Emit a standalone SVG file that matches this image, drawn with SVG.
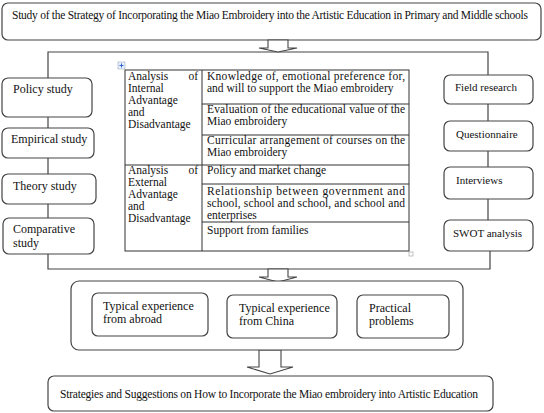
<svg xmlns="http://www.w3.org/2000/svg" width="544" height="413" viewBox="0 0 544 413" font-family="'Liberation Serif', 'DejaVu Serif', serif">
<style>
.box{fill:#fff;stroke:#444;stroke-width:1.2}
.ln{fill:none;stroke:#444;stroke-width:1.2}
.tb{fill:none;stroke:#333;stroke-width:1}
.arr{fill:#fff;stroke:#444;stroke-width:1.1}
text{font-family:'Liberation Serif','DejaVu Serif',serif;font-size:12px;fill:#111}
.s{font-size:11px}
.t{font-size:11.5px}
</style>
<rect width="544" height="413" fill="#fff"/>
<g id="title"><rect class="box" x="2" y="3" width="539" height="37" rx="6"/><text x="12" y="19" class="t" textLength="516" lengthAdjust="spacing">Study of the Strategy of Incorporating the Miao Embroidery into the Artistic Education in Primary and Middle schools</text></g>
<g id="connectors">
<path class="ln" d="M48,78V52H488V75"/>
<path class="ln" d="M48,117V128M48,158V174M48,204V218M48,254V269H490V251"/>
<path class="ln" d="M488,104V121M488,151V167M488,199V220"/>
<path class="arr" d="M268,40H288V48H297L278,52L259,48H268Z"/>
<path class="arr" d="M268,269H288V277H297L278,282L259,277H268Z"/>
<path class="arr" d="M259,350H281V367H293L270,374L247,367H259Z"/>
</g>
<g id="policy"><rect class="box" x="2" y="78" width="90" height="39" rx="6"/><text x="13" y="93">Policy study</text></g>
<g id="empirical"><rect class="box" x="2" y="128" width="92" height="30" rx="6"/><text x="11" y="143">Empirical study</text></g>
<g id="theory"><rect class="box" x="2" y="174" width="94" height="30" rx="6"/><text x="13" y="190">Theory study</text></g>
<g id="comparative"><rect class="box" x="3" y="218" width="91" height="36" rx="6"/><text x="13" y="233">Comparative</text><text x="13" y="247">study</text></g>
<g id="field"><rect class="box" x="444" y="75" width="89" height="29" rx="6"/><text x="455" y="91" class="s">Field research</text></g>
<g id="questionnaire"><rect class="box" x="444" y="121" width="89" height="30" rx="6"/><text x="456" y="138" class="s">Questionnaire</text></g>
<g id="interviews"><rect class="box" x="444" y="167" width="89" height="32" rx="6"/><text x="456" y="184" class="s">Interviews</text></g>
<g id="swot"><rect class="box" x="444" y="220" width="89" height="31" rx="6"/><text x="453" y="237" class="s">SWOT analysis</text></g>
<g id="table">
<rect x="118" y="62" width="7" height="7" fill="#e8f0ff" stroke="#9ab" stroke-width="0.6"/>
<path d="M121.5,63.5v4M119.5,65.5h4" stroke="#36c" stroke-width="1"/>
<rect class="tb" x="125" y="70" width="284" height="181"/>
<path class="tb" d="M202,70V251M202,104H409M202,135H409M125,165H409M202,184H409M202,222H409"/>
<rect x="409" y="252" width="4" height="4" fill="none" stroke="#999" stroke-width="0.6"/>
<text x="128" y="80" class="t">Analysis</text><text x="198" y="80" class="t" text-anchor="end">of</text>
<text x="128" y="92" class="t">Internal</text>
<text x="128" y="104" class="t">Advantage</text>
<text x="128" y="116" class="t">and</text>
<text x="128" y="128" class="t">Disadvantage</text>
<text x="207" y="80" class="t" textLength="198" lengthAdjust="spacing">Knowledge of, emotional preference for,</text>
<text x="207" y="92" class="t">and will to support the Miao embroidery</text>
<text x="207" y="113" class="t" textLength="198" lengthAdjust="spacing">Evaluation of the educational value of the</text>
<text x="207" y="125" class="t">Miao embroidery</text>
<text x="207" y="144" class="t" textLength="198" lengthAdjust="spacing">Curricular arrangement of courses on the</text>
<text x="207" y="156" class="t">Miao embroidery</text>
<text x="128" y="174" class="t">Analysis</text><text x="198" y="174" class="t" text-anchor="end">of</text>
<text x="128" y="186" class="t">External</text>
<text x="128" y="198" class="t">Advantage</text>
<text x="128" y="210" class="t">and</text>
<text x="128" y="222" class="t">Disadvantage</text>
<text x="207" y="174" class="t">Policy and market change</text>
<text x="207" y="195" class="t" textLength="198" lengthAdjust="spacing">Relationship between government and</text>
<text x="207" y="207" class="t" textLength="198" lengthAdjust="spacing">school, school and school, and school and</text>
<text x="207" y="219" class="t">enterprises</text>
<text x="207" y="234" class="t">Support from families</text>
</g>
<g id="middle">
<rect class="box" x="71" y="281" width="392" height="69" rx="8"/>
</g>
<g id="abroad"><rect class="box" x="92" y="293" width="116" height="43" rx="6"/><text x="103" y="310">Typical experience</text><text x="103" y="323">from abroad</text></g>
<g id="china"><rect class="box" x="227" y="295" width="110" height="43" rx="6"/><text x="239" y="312">Typical experience</text><text x="239" y="325">from China</text></g>
<g id="practical"><rect class="box" x="357" y="295" width="92" height="43" rx="6"/><text x="369" y="312">Practical</text><text x="369" y="325">problems</text></g>
<g id="final"><rect class="box" x="48" y="376" width="445" height="35" rx="6"/><text x="60" y="398" class="t" textLength="418" lengthAdjust="spacing">Strategies and Suggestions on How to Incorporate the Miao embroidery into Artistic Education</text></g>
</svg>
